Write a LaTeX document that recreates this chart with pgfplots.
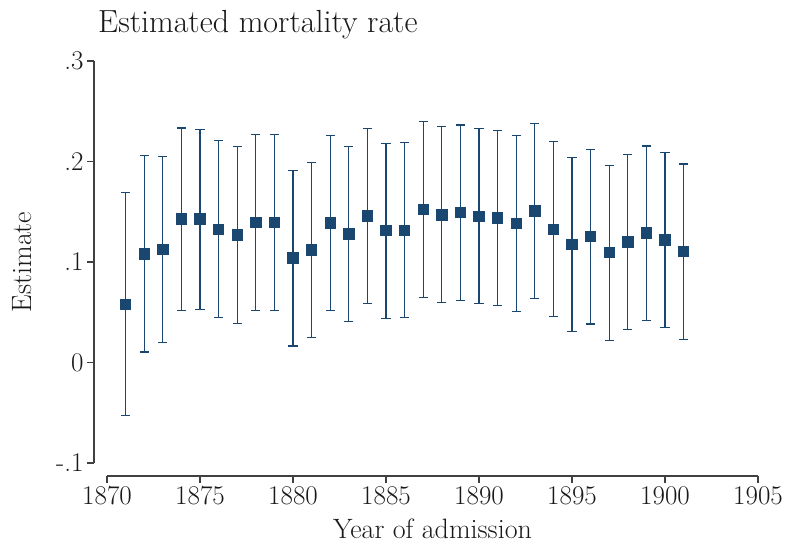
\documentclass[border=0pt]{standalone}
\usepackage{pgfplots}
\pgfplotsset{compat=1.18}
\usepackage{pgfplotstable}
\definecolor{stnavy}{HTML}{1A476F}
\definecolor{axgray}{HTML}{404040}
\pgfplotstableread{
x y lo hi
1871 0.0580 -0.0530 0.1690
1872 0.1080 0.0105 0.2056
1873 0.1124 0.0199 0.2053
1874 0.1426 0.0517 0.2334
1875 0.1426 0.0527 0.2315
1876 0.1326 0.0444 0.2209
1877 0.1267 0.0388 0.2146
1878 0.1393 0.0517 0.2269
1879 0.1393 0.0517 0.2269
1880 0.1041 0.0165 0.1910
1881 0.1120 0.0249 0.1993
1882 0.1390 0.0517 0.2262
1883 0.1277 0.0404 0.2146
1884 0.1459 0.0587 0.2328
1885 0.1313 0.0441 0.2182
1886 0.1316 0.0444 0.2189
1887 0.1525 0.0650 0.2394
1888 0.1469 0.0597 0.2345
1889 0.1492 0.0617 0.2364
1890 0.1453 0.0584 0.2325
1891 0.1439 0.0567 0.2308
1892 0.1383 0.0507 0.2255
1893 0.1509 0.0637 0.2378
1894 0.1326 0.0454 0.2195
1895 0.1174 0.0305 0.2040
1896 0.1254 0.0384 0.2122
1897 0.1094 0.0222 0.1963
1898 0.1200 0.0328 0.2073
1899 0.1287 0.0414 0.2155
1900 0.1220 0.0348 0.2093
1901 0.1104 0.0232 0.1976
}\datatable
\begin{document}
\begin{tikzpicture}
\begin{axis}[
  scale only axis,
  width=664pt, height=415pt,
  xmin=1869.301, xmax=1905,
  ymin=-0.11294, ymax=0.3,
  axis lines=left,
  axis line style={-, axgray, line width=1.2pt},
  x axis line style={shorten <=13pt},
  y axis line style={shorten <=13pt},
  tick align=outside,
  major tick length=7pt,
  tick style={axgray, line width=1.2pt},
  xtick={1870,1875,...,1905},
  ytick={-0.1,0,0.1,0.2,0.3},
  yticklabels={-.1,0,.1,.2,.3},
  /pgf/number format/assume math mode=true,
  /pgf/number format/set thousands separator={},
  ticklabel style={font=\fontsize{27}{32}\selectfont, text=black!90},
  xlabel={Year of admission},
  ylabel={Estimate},
  xlabel style={at={(axis description cs:0.5098,0)}, anchor=base, yshift=-62pt, font=\fontsize{28}{33}\selectfont, text=black!90},
  ylabel style={at={(axis description cs:-0.0934,0.5157)}, anchor=base, font=\fontsize{28}{33}\selectfont, text=black!90},
  title={Estimated mortality rate},
  title style={at={(axis description cs:0.006,1)}, anchor=base west, inner sep=0pt, yshift=22pt, font=\fontsize{32}{38}\selectfont, text=black!90},
  clip=false,
]
\addplot[only marks, mark=square*, mark size=5.2pt,
  mark options={fill=stnavy, draw=stnavy, line width=0pt},
  error bars/.cd, y dir=both, y explicit,
  error mark=-,
  error mark options={rotate=90, mark size=4.6pt, line width=1.2pt, stnavy},
  error bar style={line width=1.2pt, stnavy}]
  table[x=x, y=y,
    y error plus expr=\thisrow{hi}-\thisrow{y},
    y error minus expr=\thisrow{y}-\thisrow{lo}] {\datatable};
\end{axis}
\pgfresetboundingbox
\path (current axis.south west) ++(-94pt,-70pt) rectangle ++(787pt,546pt);
\end{tikzpicture}
\end{document}
